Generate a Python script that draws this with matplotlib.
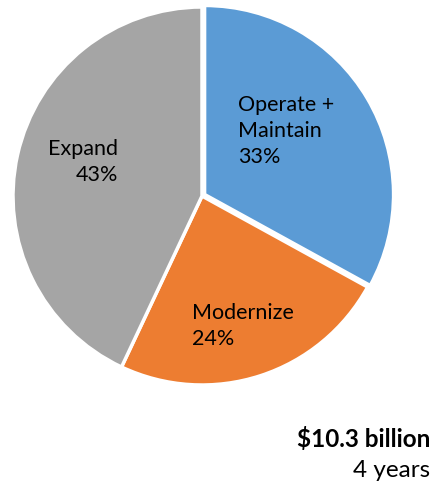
import matplotlib
matplotlib.use("Agg")
import matplotlib.pyplot as plt

categories = ["Operate +\nMaintain", "Modernize", "Expand"]
shares = [33, 24, 43]
colors = ["#5B9BD5", "#ED7D31", "#A5A5A5"]
total_label = "$10.3 billion"
period_label = "4 years"

W, H = 434, 485
fig = plt.figure(figsize=(W / 100, H / 100), dpi=100)
ax = fig.add_axes([0, 0, 1, 1])

font = "Lato"

def y(py):
    return H - py

ax.pie(shares, colors=colors, startangle=90, counterclock=False,
       center=(202, y(197)), radius=189,
       explode=[3, 0, 0],
       wedgeprops=dict(edgecolor="white", linewidth=2.5))

ax.set_xlim(0, W)
ax.set_ylim(0, H)
ax.set_aspect("equal")
ax.axis("off")

fs = 15.5
ls = 1.38
ax.text(238, y(131), f"{categories[0]}\n{shares[0]}%", ha="left", va="center",
        fontsize=fs, family=font, linespacing=ls)
ax.text(118, y(162), f"{categories[2]}\n{shares[2]}%", ha="right", va="center",
        fontsize=fs, family=font, linespacing=ls, multialignment="right")
ax.text(192, y(326), f"{categories[1]}\n{shares[1]}%", ha="left", va="center",
        fontsize=fs, family=font, linespacing=ls)

ax.text(430, y(439), total_label, ha="right", va="center",
        fontsize=17.5, family=font, fontweight="bold")
ax.text(430, y(471), period_label, ha="right", va="center",
        fontsize=17.5, family=font)

fig.savefig("out.png", dpi=100)
